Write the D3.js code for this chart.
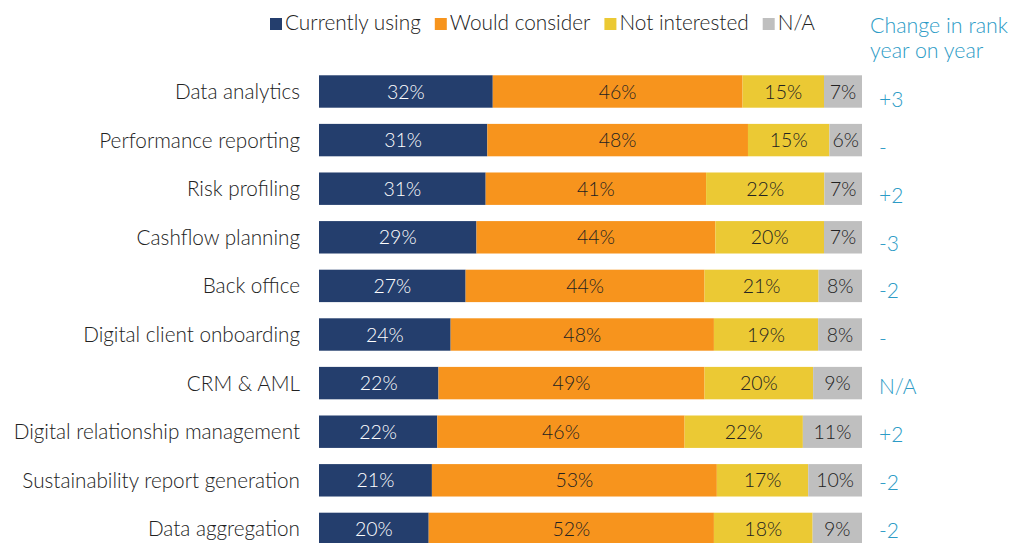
<!DOCTYPE html>
<html>
<head>
<meta charset="utf-8">
<script src="https://cdn.jsdelivr.net/npm/d3@7"></script>
<style>
  html, body { margin: 0; padding: 0; background: #fff; }
  svg { display: block; font-family: Lato, "Open Sans", sans-serif; }
</style>
</head>
<body>
<svg id="chart"></svg>
<script>
const categories = [
  'Data analytics', 'Performance reporting', 'Risk profiling', 'Cashflow planning',
  'Back office', 'Digital client onboarding', 'CRM & AML',
  'Digital relationship management', 'Sustainability report generation', 'Data aggregation'
];
const seriesNames = ['Currently using', 'Would consider', 'Not interested', 'N/A'];
const currentlyUsing = [32, 31, 31, 29, 27, 24, 22, 22, 21, 20];
const wouldConsider  = [46, 48, 41, 44, 44, 48, 49, 46, 53, 52];
const notInterested  = [15, 15, 22, 20, 21, 19, 20, 22, 17, 18];
const notApplicable  = [7, 6, 7, 7, 8, 8, 9, 11, 10, 9];
const rankChange = ['+3', '-', '+2', '-3', '-2', '-', 'N/A', '+2', '-2', '-2'];

const colors = ['#243e6d', '#f7941d', '#ebc934', '#bfbfbf'];
const labelColors = ['#ffffff', '#222222', '#222222', '#222222'];
const teal = '#2c9bc6';

const width = 1011, height = 543;
const svg = d3.select('#chart').attr('width', width).attr('height', height);

const series = [currentlyUsing, wouldConsider, notInterested, notApplicable];
const rows = categories.map((c, i) => {
  const vals = series.map(s => s[i]);
  const total = d3.sum(vals);
  let acc = 0;
  const segs = vals.map((v, k) => {
    const s = { key: k, value: v, x0: acc / total, x1: (acc + v) / total };
    acc += v;
    return s;
  });
  return { cat: c, segs, change: rankChange[i] };
});

const x = d3.scaleLinear().domain([0, 1]).range([319, 862]);
const y = d3.scaleBand().domain(categories).range([59.1, 561.3]).padding(0.333);
// the rank-change column sits on its own, slightly tighter grid
const yChange = d3.scalePoint().domain(categories).range([99.5, 530]);

const row = svg.selectAll('g.row').data(rows).join('g')
  .attr('class', 'row')
  .attr('transform', d => `translate(0,${y(d.cat)})`);

row.selectAll('rect').data(d => d.segs).join('rect')
  .attr('x', d => x(d.x0))
  .attr('width', d => x(d.x1) - x(d.x0))
  .attr('height', y.bandwidth())
  .attr('fill', d => colors[d.key]);

row.selectAll('text.val').data(d => d.segs).join('text')
  .attr('class', 'val')
  .attr('x', d => (x(d.x0) + x(d.x1)) / 2)
  .attr('y', y.bandwidth() / 2)
  .attr('dy', '0.36em')
  .attr('text-anchor', 'middle')
  .attr('font-size', 19.5)
  .attr('font-weight', 300)
  .attr('fill', d => labelColors[d.key])
  .text(d => d.value + '%');

row.append('text')
  .attr('x', 300)
  .attr('y', y.bandwidth() / 2)
  .attr('dy', '0.36em')
  .attr('text-anchor', 'end')
  .attr('font-size', 20.7)
  .attr('font-weight', 300)
  .attr('fill', '#222')
  .text(d => d.cat);

svg.selectAll('text.change').data(rows).join('text')
  .attr('class', 'change')
  .attr('x', 879)
  .attr('y', d => yChange(d.cat))
  .attr('dy', '0.36em')
  .attr('font-size', 21)
  .attr('font-weight', 300)
  .attr('fill', teal)
  .text(d => d.change);

// legend
const legend = svg.selectAll('g.legend').data(seriesNames).join('g')
  .attr('class', 'legend');
legend.append('rect')
  .attr('y', 18).attr('width', 12).attr('height', 12)
  .attr('fill', (d, i) => colors[i]);
legend.append('text')
  .attr('x', 15).attr('y', 23).attr('dy', '0.36em')
  .attr('font-size', 20.8).attr('font-weight', 300).attr('fill', '#222')
  .text(d => d);
let lx = 270;
legend.each(function () {
  d3.select(this).attr('transform', `translate(${lx},0)`);
  lx += 15 + d3.select(this).select('text').node().getComputedTextLength() + 14;
});

svg.append('text')
  .attr('font-size', 21.4).attr('font-weight', 300).attr('fill', teal)
  .selectAll('tspan').data(['Change in rank', 'year on year']).join('tspan')
  .attr('x', 870).attr('y', (d, i) => 33 + i * 25)
  .text(d => d);
</script>
</body>
</html>
